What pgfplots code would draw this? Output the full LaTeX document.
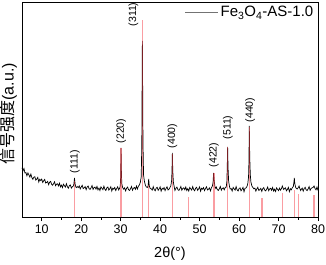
\documentclass[border=0pt]{standalone}
\usepackage{fontspec}
\setmainfont{Liberation Sans}
\newfontfamily\cjk{Noto Sans CJK SC}
\usepackage{pgfplots}
\pgfplotsset{compat=1.18}
\usepackage{pgfplotstable}
\definecolor{refred}{RGB}{245,60,70}

\pgfplotstableread{
x y
5.00 49.2
5.25 46.2
5.50 48.5
5.75 44.0
6.00 44.4
6.25 41.2
6.50 44.1
6.75 42.0
7.00 39.9
7.25 42.9
7.50 39.4
7.75 37.7
8.00 39.9
8.25 40.3
8.50 36.9
8.75 37.9
9.00 39.6
9.25 35.0
9.50 37.7
9.75 36.5
10.00 37.9
10.25 34.5
10.50 36.3
10.75 37.6
11.00 34.0
11.25 34.6
11.50 35.6
11.75 32.3
12.00 34.8
12.25 35.6
12.50 32.8
12.75 31.8
13.00 33.3
13.25 35.2
13.50 31.3
13.75 32.8
14.00 33.2
14.25 31.1
14.50 33.8
14.75 30.1
15.00 31.9
15.25 29.4
15.50 32.8
15.75 31.3
16.00 29.9
16.25 33.3
16.50 30.2
16.75 28.8
17.00 31.4
17.25 32.1
17.50 28.9
17.75 30.2
18.00 31.0
18.15 33.0
18.30 39.0
18.45 33.0
18.60 30.5
18.75 29.4
19.00 30.5
19.25 29.5
19.50 31.1
19.75 28.0
20.00 30.0
20.25 31.7
20.50 28.4
20.75 29.2
21.00 30.4
21.25 27.3
21.50 30.0
21.75 31.0
22.00 28.3
22.25 27.6
22.50 29.2
22.75 31.4
23.00 27.6
23.25 29.4
23.50 29.9
23.75 27.9
24.00 30.6
24.25 27.1
24.50 28.9
24.75 26.5
25.00 30.1
25.25 28.7
25.50 27.3
25.75 30.8
26.00 27.8
26.25 26.5
26.50 29.2
26.75 30.0
27.00 26.9
27.25 28.3
27.50 30.3
27.75 26.0
28.00 28.8
28.25 27.8
28.50 29.5
28.75 26.5
29.00 28.5
29.25 30.2
29.50 27.0
29.70 28.5
29.90 31.0
30.00 40.0
30.10 69.0
30.20 42.0
30.30 33.0
30.50 29.5
30.75 27.8
31.00 29.1
31.25 26.1
31.50 28.8
31.75 29.9
32.00 27.3
32.25 26.6
32.50 28.3
32.75 30.5
33.00 26.8
33.25 28.8
33.50 29.5
33.75 27.7
34.00 31.0
34.25 28.0
34.50 30.9
34.75 32.0
35.00 35.0
35.20 40.0
35.35 70.0
35.45 140.0
35.50 176.0
35.55 145.0
35.65 75.0
35.80 42.0
36.00 36.0
36.25 32.0
36.50 30.0
36.75 29.5
36.95 31.0
37.10 38.0
37.25 31.0
37.50 28.5
37.75 28.2
38.00 26.9
38.25 30.4
38.50 27.4
38.75 26.2
39.00 28.9
39.25 29.7
39.50 26.7
39.75 28.1
40.00 30.1
40.25 25.8
40.50 28.7
40.75 27.7
41.00 29.4
41.25 26.4
41.50 28.5
41.75 30.2
42.00 27.0
42.25 27.8
42.50 29.6
42.70 31.0
42.90 36.0
43.00 45.0
43.10 64.0
43.20 46.0
43.35 35.0
43.55 30.5
43.75 26.6
44.00 28.8
44.25 29.9
44.50 27.3
44.75 26.6
45.00 28.3
45.25 30.5
45.50 26.8
45.75 28.6
46.00 29.2
46.25 27.2
46.50 30.0
46.75 26.5
47.00 28.4
47.25 26.0
47.50 29.6
47.75 28.2
48.00 26.9
48.25 30.4
48.50 27.4
48.75 26.2
49.00 28.9
49.25 29.7
49.50 26.7
49.75 28.1
50.00 30.1
50.25 25.8
50.50 28.7
50.75 27.7
51.00 29.4
51.25 26.4
51.50 28.5
51.75 30.2
52.00 27.0
52.25 27.8
52.50 29.1
52.75 26.1
53.00 29.3
53.20 30.5
53.40 34.0
53.55 44.0
53.70 36.0
53.90 30.0
54.10 28.5
54.25 29.9
54.50 27.3
54.75 26.6
55.00 28.3
55.25 30.5
55.50 26.8
55.75 28.6
56.00 29.2
56.25 27.2
56.50 29.5
56.75 30.0
56.90 35.0
57.00 48.0
57.10 70.0
57.20 50.0
57.35 36.0
57.55 31.0
57.75 28.0
58.00 28.4
58.25 26.0
58.50 29.6
58.75 28.2
59.00 26.9
59.25 30.4
59.50 27.2
59.75 26.0
60.00 28.4
60.25 29.2
60.50 26.2
60.75 27.6
61.00 29.6
61.25 25.3
61.50 28.7
61.75 29.0
62.00 30.5
62.20 33.0
62.40 40.0
62.50 55.0
62.60 91.0
62.70 60.0
62.85 42.0
63.00 35.0
63.25 31.0
63.50 29.5
63.75 28.2
64.00 28.9
64.25 25.9
64.50 28.0
64.75 29.7
65.00 26.5
65.25 27.3
65.50 28.6
65.75 25.6
66.00 28.3
66.25 29.4
66.50 26.8
66.75 26.1
67.00 27.8
67.25 30.0
67.50 26.3
67.75 28.1
68.00 28.7
68.25 26.7
68.50 29.5
68.75 26.0
69.00 27.9
69.25 25.5
69.50 29.1
69.75 27.7
70.00 26.4
70.25 28.9
70.50 26.9
70.75 28.5
70.95 31.0
71.10 29.5
71.30 27.5
71.50 28.4
71.75 29.2
72.00 26.2
72.25 27.6
72.50 29.6
72.75 25.3
73.00 28.2
73.25 27.2
73.50 29.4
73.75 30.5
73.90 35.0
74.00 39.0
74.10 34.0
74.30 30.0
74.50 28.5
74.75 28.0
75.00 29.5
75.20 31.0
75.40 28.5
75.60 26.5
75.75 27.6
76.00 28.9
76.25 25.9
76.50 28.6
76.75 29.7
77.00 27.1
77.25 26.4
77.50 28.2
77.75 30.4
78.00 26.7
78.25 28.5
78.50 29.2
78.75 29.5
79.00 31.0
79.25 28.5
79.50 27.2
79.75 30.0
80.00 26.5
}\xrd

\pgfplotstableread{
x y
18.3 36
30.1 69
35.5 197
37.1 32
43.1 63
47.2 20
53.6 44
57.1 70
62.6 90
65.8 19
71.0 24
74.0 27
75.1 23
79.0 22
}\card

\begin{document}
\begin{tikzpicture}
\begin{axis}[
  scale only axis,
  width=296pt, height=215pt,
  xmin=5, xmax=80, ymin=0, ymax=215,
  xtick={10,20,...,80},
  minor x tick num=1,
  ytick=\empty,
  xtick pos=bottom,
  tick align=outside,
  major tick length=4pt,
  minor tick length=2.5pt,
  axis line style={line width=0.7pt},
  every tick/.style={line width=0.6pt, black},
  /pgf/number format/assume math mode=true,
  xticklabel style={font=\fontsize{12.5}{14}\selectfont},
  xlabel={2θ(°)},
  xlabel style={font=\fontsize{14.5}{16}\selectfont, at={(axis description cs:0.5,-0.19)}, anchor=base},
  ylabel={{\cjk 信号强度}(a.u.)},
  ylabel style={font=\fontsize{16}{18}\selectfont, at={(axis description cs:-0.016,0.48)}, anchor=south, inner sep=0pt},
  legend style={draw=none, fill=none, at={(axis description cs:0.995,0.995)}, anchor=north east, font=\fontsize{15}{17}\selectfont, inner sep=1pt},
  legend image code/.code={\draw[#1] (0pt,0pt) -- (33pt,0pt);},
  clip=false,
]
\addlegendimage{black!55, line width=0.6pt}
\addlegendentry{Fe\textsubscript{3}O\textsubscript{4}-AS-1.0}
\addplot[black, line width=0.7pt, forget plot] table[x=x,y=y] {\xrd};
\addplot[ycomb, refred, opacity=0.5, line width=1.4pt, forget plot] table[x=x,y=y] {\card};
\begin{scope}[every node/.style={rotate=90, anchor=west, font=\fontsize{10.5}{12}\selectfont, inner sep=0.5pt}]
\node at (axis cs:18.4,43) {(111)};
\node at (axis cs:30.1,73) {(220)};
\node at (axis cs:33.2,190) {(311)};
\node at (axis cs:43.1,68) {(400)};
\node at (axis cs:53.6,49) {(422)};
\node at (axis cs:57.2,77) {(511)};
\node at (axis cs:62.8,94) {(440)};
\end{scope}
\end{axis}
\pgfresetboundingbox
\path[use as bounding box] ([xshift=-22pt,yshift=-47pt]current axis.south west) rectangle ([xshift=8pt,yshift=2pt]current axis.north east);
\end{tikzpicture}
\end{document}
